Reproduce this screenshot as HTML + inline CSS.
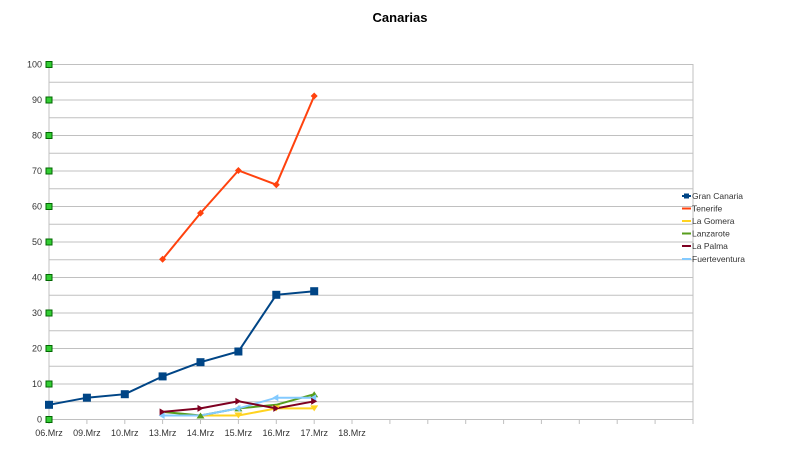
<!DOCTYPE html>
<html><head><meta charset="utf-8"><style>
body{margin:0;background:#fff;}
svg{display:block;font-family:"Liberation Sans",sans-serif;}
</style></head><body>
<svg width="800" height="453" viewBox="0 0 800 453">
<text x="400" y="22" text-anchor="middle" font-size="13" font-weight="bold" fill="#000">Canarias</text>
<g stroke="#c0c0c0" stroke-width="1">
<line x1="49" y1="64.5" x2="693" y2="64.5"/><line x1="49" y1="82.3" x2="693" y2="82.3"/>
<line x1="49" y1="100" x2="693" y2="100"/><line x1="49" y1="117.8" x2="693" y2="117.8"/>
<line x1="49" y1="135.5" x2="693" y2="135.5"/><line x1="49" y1="153.3" x2="693" y2="153.3"/>
<line x1="49" y1="171" x2="693" y2="171"/><line x1="49" y1="188.8" x2="693" y2="188.8"/>
<line x1="49" y1="206.5" x2="693" y2="206.5"/><line x1="49" y1="224.3" x2="693" y2="224.3"/>
<line x1="49" y1="242" x2="693" y2="242"/><line x1="49" y1="259.8" x2="693" y2="259.8"/>
<line x1="49" y1="277.5" x2="693" y2="277.5"/><line x1="49" y1="295.3" x2="693" y2="295.3"/>
<line x1="49" y1="313" x2="693" y2="313"/><line x1="49" y1="330.8" x2="693" y2="330.8"/>
<line x1="49" y1="348.5" x2="693" y2="348.5"/><line x1="49" y1="366.3" x2="693" y2="366.3"/>
<line x1="49" y1="384" x2="693" y2="384"/><line x1="49" y1="401.8" x2="693" y2="401.8"/>
<line x1="49" y1="419.5" x2="693" y2="419.5"/>
<line x1="49" y1="64" x2="49" y2="424"/><line x1="693" y1="64" x2="693" y2="424"/>
<line x1="86.9" y1="419" x2="86.9" y2="424"/><line x1="124.8" y1="419" x2="124.8" y2="424"/>
<line x1="162.6" y1="419" x2="162.6" y2="424"/><line x1="200.5" y1="419" x2="200.5" y2="424"/>
<line x1="238.4" y1="419" x2="238.4" y2="424"/><line x1="276.3" y1="419" x2="276.3" y2="424"/>
<line x1="314.2" y1="419" x2="314.2" y2="424"/><line x1="352" y1="419" x2="352" y2="424"/>
<line x1="389.9" y1="419" x2="389.9" y2="424"/><line x1="427.8" y1="419" x2="427.8" y2="424"/>
<line x1="465.7" y1="419" x2="465.7" y2="424"/><line x1="503.6" y1="419" x2="503.6" y2="424"/>
<line x1="541.4" y1="419" x2="541.4" y2="424"/><line x1="579.3" y1="419" x2="579.3" y2="424"/>
<line x1="617.2" y1="419" x2="617.2" y2="424"/><line x1="655.1" y1="419" x2="655.1" y2="424"/>
</g>
<g fill="#33cc33" stroke="#006600" stroke-width="1">
<rect x="46" y="61.5" width="6" height="6"/><rect x="46" y="97" width="6" height="6"/>
<rect x="46" y="132.5" width="6" height="6"/><rect x="46" y="168" width="6" height="6"/>
<rect x="46" y="203.5" width="6" height="6"/><rect x="46" y="239" width="6" height="6"/>
<rect x="46" y="274.5" width="6" height="6"/><rect x="46" y="310" width="6" height="6"/>
<rect x="46" y="345.5" width="6" height="6"/><rect x="46" y="381" width="6" height="6"/>
<rect x="46" y="416.5" width="6" height="6"/>
</g>
<g font-size="9" fill="#333" text-anchor="end">
<text x="42" y="67.5">100</text><text x="42" y="103">90</text><text x="42" y="138.5">80</text>
<text x="42" y="174">70</text><text x="42" y="209.5">60</text><text x="42" y="245">50</text>
<text x="42" y="280.5">40</text><text x="42" y="316">30</text><text x="42" y="351.5">20</text>
<text x="42" y="387">10</text><text x="42" y="422.5">0</text>
</g>
<g font-size="9" fill="#333" text-anchor="middle">
<text x="49" y="436">06.Mrz</text><text x="86.9" y="436">09.Mrz</text><text x="124.8" y="436">10.Mrz</text>
<text x="162.6" y="436">13.Mrz</text><text x="200.5" y="436">14.Mrz</text><text x="238.4" y="436">15.Mrz</text>
<text x="276.3" y="436">16.Mrz</text><text x="314.2" y="436">17.Mrz</text><text x="352" y="436">18.Mrz</text>
</g>
<g fill="none" stroke-width="2">
<polyline stroke="#ff420e" points="162.6,259.3 200.5,213.1 238.4,170.5 276.3,184.7 314.2,96"/>
<polyline stroke="#ffd320" points="162.6,415.5 200.5,415.5 238.4,415.5 276.3,408.4 314.2,408.4"/>
<polyline stroke="#579d1c" points="162.6,411.9 200.5,415.5 238.4,408.4 276.3,404.8 314.2,394.2"/>
<polyline stroke="#83caff" points="162.6,415.5 200.5,415.5 238.4,408.4 276.3,397.7 314.2,397.7"/>
<polyline stroke="#7e0021" points="162.6,411.9 200.5,408.4 238.4,401.3 276.3,408.4 314.2,401.3"/>
<polyline stroke="#004586" points="49,404.8 86.9,397.7 124.8,394.2 162.6,376.4 200.5,362.2 238.4,351.5 276.3,294.8 314.2,291.2"/>
</g>
<g fill="#ffd320">
<path d="M234.4,412.5h8l-4,6z"/><path d="M272.3,405.4h8l-4,6z"/><path d="M310.2,405.4h8l-4,6z"/>
</g>
<g fill="#579d1c">
<path d="M196.5,418.5h8l-4,-6z"/><path d="M234.4,411.4h8l-4,-6z"/><path d="M310.2,397.2h8l-4,-6z"/>
</g>
<g fill="#83caff">
<path d="M158.6,415.5l6,-3.5v7z"/><path d="M234.4,408.4l6,-3.5v7z"/><path d="M272.3,397.7l6,-3.5v7z"/><path d="M310.2,397.7l6,-3.5v7z"/>
</g>
<g fill="#ff420e">
<path d="M162.6,255.8l3.5,3.5-3.5,3.5-3.5-3.5z"/><path d="M200.5,209.6l3.5,3.5-3.5,3.5-3.5-3.5z"/>
<path d="M238.4,167l3.5,3.5-3.5,3.5-3.5-3.5z"/><path d="M276.3,181.2l3.5,3.5-3.5,3.5-3.5-3.5z"/>
<path d="M314.2,92.5l3.5,3.5-3.5,3.5-3.5-3.5z"/>
</g>
<g fill="#004586">
<rect x="45" y="400.8" width="8" height="8"/><rect x="82.9" y="393.7" width="8" height="8"/>
<rect x="120.8" y="390.2" width="8" height="8"/><rect x="158.6" y="372.4" width="8" height="8"/>
<rect x="196.5" y="358.2" width="8" height="8"/><rect x="234.4" y="347.5" width="8" height="8"/>
<rect x="272.3" y="290.8" width="8" height="8"/><rect x="310.2" y="287.2" width="8" height="8"/>
</g>
<g fill="#7e0021">
<path d="M159.6,408.4v7l6,-3.5z"/><path d="M197.5,404.9v7l6,-3.5z"/><path d="M235.4,397.8v7l6,-3.5z"/>
<path d="M273.3,404.9v7l6,-3.5z"/><path d="M311.2,397.8v7l6,-3.5z"/>
</g>
<g font-size="8.5" fill="#333">
<text x="692" y="199">Gran Canaria</text><text x="692" y="211.5">Tenerife</text>
<text x="692" y="224">La Gomera</text><text x="692" y="236.5">Lanzarote</text>
<text x="692" y="249">La Palma</text><text x="692" y="262">Fuerteventura</text>
</g>
<g stroke-width="2">
<line x1="682" y1="196" x2="691" y2="196" stroke="#004586"/><rect x="684" y="193.5" width="5" height="5" fill="#004586"/>
<line x1="682" y1="208.5" x2="691" y2="208.5" stroke="#ff420e"/>
<line x1="682" y1="221" x2="691" y2="221" stroke="#ffd320"/>
<line x1="682" y1="233.5" x2="691" y2="233.5" stroke="#579d1c"/>
<line x1="682" y1="246" x2="691" y2="246" stroke="#7e0021"/>
<line x1="682" y1="259" x2="691" y2="259" stroke="#83caff"/>
</g>
</svg>
</body></html>
